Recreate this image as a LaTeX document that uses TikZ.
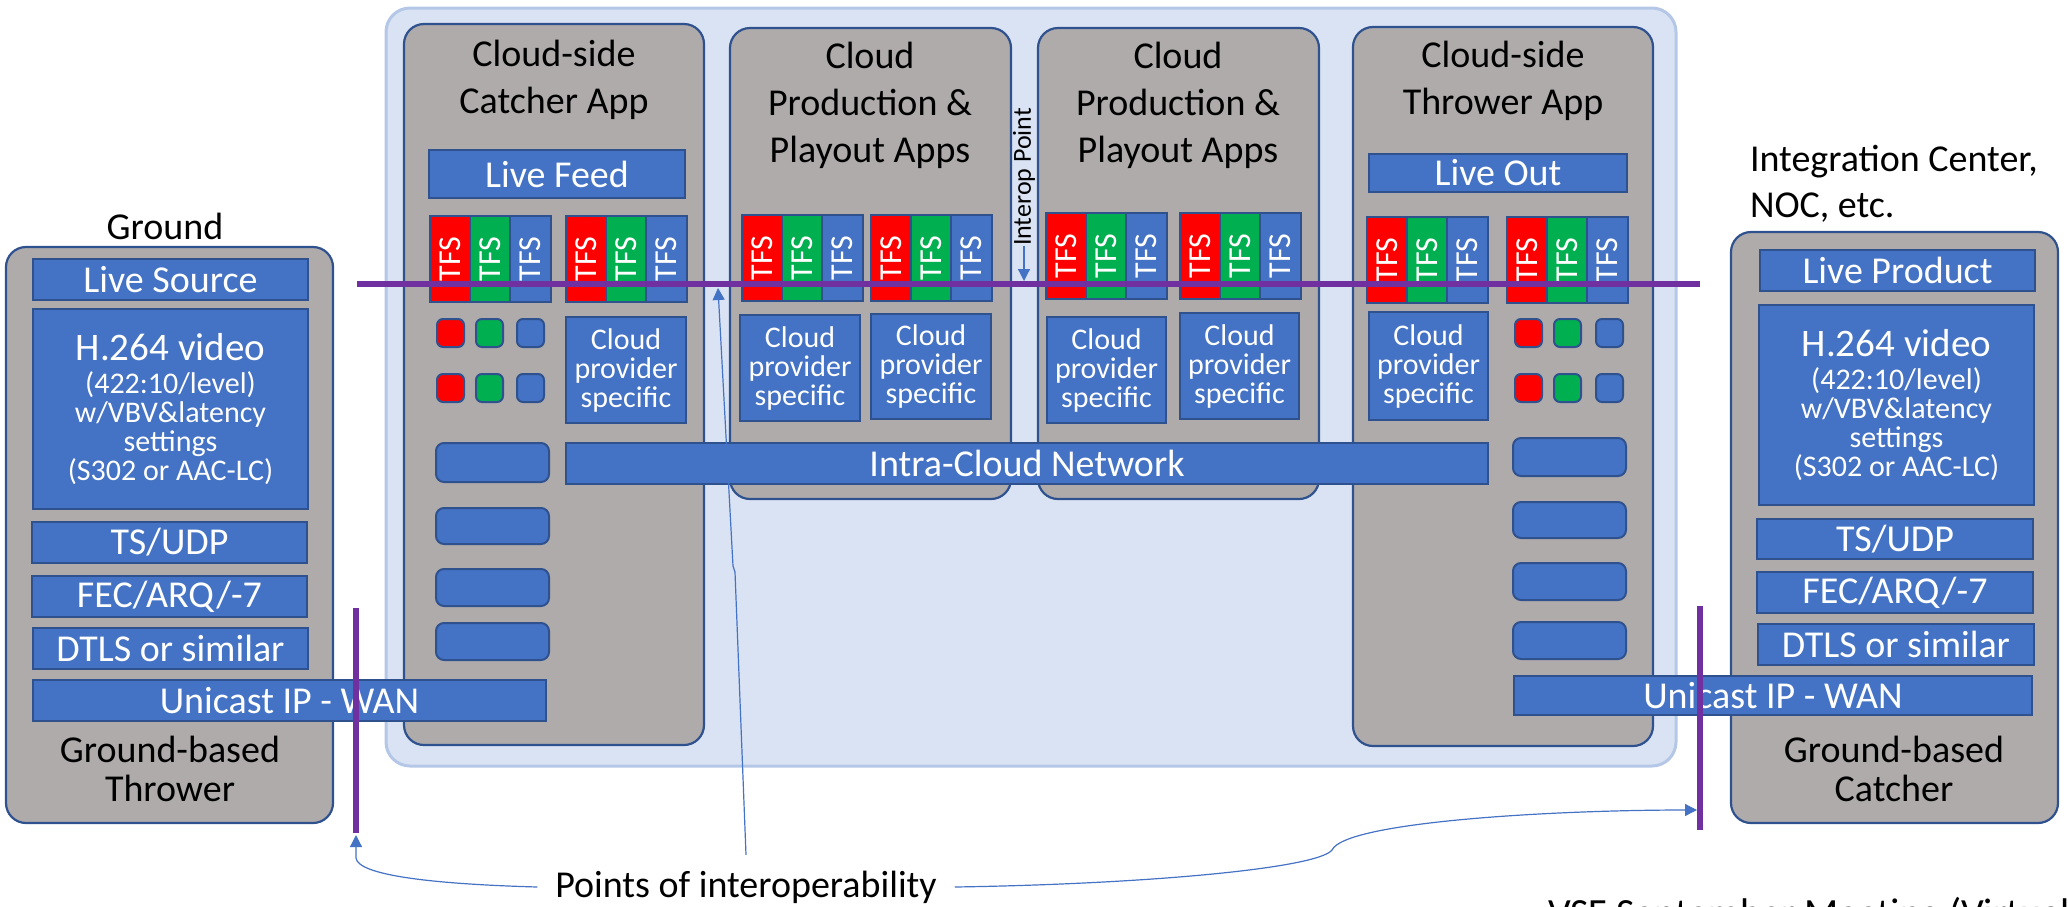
\documentclass[tikz,border=0pt]{standalone}
\usepackage{fontspec}
\usepackage{graphicx}
\setmainfont{Carlito}
\usetikzlibrary{arrows.meta}
\definecolor{bgblue}{HTML}{DAE3F3}
\definecolor{bgedge}{HTML}{B4C7E7}
\definecolor{appgray}{HTML}{AFABAB}
\definecolor{edgeblue}{HTML}{2F528F}
\definecolor{mblue}{HTML}{4472C4}
\definecolor{tred}{HTML}{FF0000}
\definecolor{tgreen}{HTML}{00B050}
\definecolor{ppurple}{HTML}{7030A0}
\newcommand\fs[2]{\fontsize{#1}{#2}\selectfont}
% name, x1, y1, x2, y2, style, text
\newcommand\rbox[7]{\node[#6,minimum width={(#4-(#2))*0.5pt},minimum height={(#5-(#3))*0.5pt}] (#1) at ({(#2+#4)/2},{(#3+#5)/2}) {#7};}
\newcommand\tfstxt{\rotatebox{90}{TFS}}
% name, x, y
\newcommand\tfsgroup[3]{%
  \rbox{#1a}{#2}{#3}{#2+40}{#3+86}{tfsbar,fill=tred}{\tfstxt}
  \rbox{#1b}{#2+40}{#3}{#2+80}{#3+86}{tfsbar,fill=tgreen}{\tfstxt}
  \rbox{#1c}{#2+80}{#3}{#2+121}{#3+86}{tfsbar,fill=mblue}{\tfstxt}}
% name, x-list, y
\newcommand\sqrow[5]{%
  \rbox{#1a}{#2}{#5}{#2+27}{#5+28}{sq,fill=tred}{}
  \rbox{#1b}{#3}{#5}{#3+27}{#5+28}{sq,fill=tgreen}{}
  \rbox{#1c}{#4}{#5}{#4+27}{#5+28}{sq,fill=mblue}{}}
\begin{document}
\begin{tikzpicture}[x=0.5pt,y=-0.5pt,
  every node/.style={inner sep=0pt,outer sep=0pt},
  cloudbg/.style={fill=bgblue,draw=bgedge,line width=1.5pt,rounded corners=12pt},
  app/.style={fill=appgray,draw=edgeblue,line width=1.1pt,rounded corners=10pt},
  blk/.style={fill=mblue,draw=edgeblue,line width=1pt,text=white,font=\fs{19}{23}},
  cps/.style={blk,align=center,font=\fs{15}{14.5}},
  rblk/.style={fill=mblue,draw=edgeblue,line width=1pt,rounded corners=4pt},
  tfsbar/.style={draw=edgeblue,line width=1pt,text=white,font=\fs{16}{16}},
  sq/.style={draw=edgeblue,line width=1pt,rounded corners=3pt},
  ttl/.style={align=center,font=\fs{19}{23.5}},
  lbl/.style={font=\fs{19}{23}},
  purp/.style={draw=ppurple,line width=3pt},
  thin/.style={draw=mblue,line width=0.6pt},
  arr/.style={thin,-{Triangle[width=6pt,length=6pt]}}]
\useasboundingbox (0,0) rectangle (2068,906);
\clip (0,0) rectangle (2068,906);

% cloud background
\rbox{cloud}{386}{8}{1676}{766}{cloudbg}{}

% Cloud-side catcher app
\rbox{catcher}{404}{24}{704}{745}{app}{}
\node[ttl] (catcherT) at (554,80) {Cloud-side\\Catcher App};
\rbox{livefeed}{429}{150}{685}{198}{blk}{Live Feed}
\tfsgroup{ca}{430}{216}
\tfsgroup{cb}{566}{216}
\sqrow{cs1}{437}{476}{517}{319}
\sqrow{cs2}{437}{476}{517}{374}
\rbox{ccps}{566}{317}{686}{423}{cps}{Cloud\\provider\\specific}
\rbox{cr1}{436}{443}{549}{482}{rblk}{}
\rbox{cr2}{436}{508}{549}{544}{rblk}{}
\rbox{cr3}{436}{569}{549}{606}{rblk}{}
\rbox{cr4}{436}{623}{549}{660}{rblk}{}

% Production app 1
\rbox{prod1}{730}{28}{1011}{499}{app}{}
\node[ttl] (prod1T) at (870,105) {Cloud\\Production \&\\Playout Apps};
\tfsgroup{pa}{742}{215}
\tfsgroup{pb}{871}{215}
\rbox{pcps1}{740}{315}{860}{421}{cps}{Cloud\\provider\\specific}
\rbox{pcps2}{871}{314}{991}{419}{cps}{Cloud\\provider\\specific}

% Production app 2
\rbox{prod2}{1038}{28}{1319}{499}{app}{}
\node[ttl] (prod2T) at (1178,105) {Cloud\\Production \&\\Playout Apps};
\tfsgroup{qa}{1046}{213}
\tfsgroup{qb}{1180}{213}
\rbox{qcps1}{1047}{317}{1166}{423}{cps}{Cloud\\provider\\specific}
\rbox{qcps2}{1180}{313}{1299}{419}{cps}{Cloud\\provider\\specific}

% Cloud-side thrower app
\rbox{thrower}{1353}{27}{1653}{746}{app}{}
\node[ttl] (throwerT) at (1503,81) {Cloud-side\\Thrower App};
\rbox{liveout}{1369}{154}{1627}{192}{blk}{Live Out}
\tfsgroup{ta}{1367}{217}
\tfsgroup{tb}{1507}{217}
\rbox{tcps}{1369}{312}{1488}{420}{cps}{Cloud\\provider\\specific}
\sqrow{ts1}{1515}{1554}{1596}{319}
\sqrow{ts2}{1515}{1554}{1596}{374}
\rbox{tr1}{1513}{438}{1626}{476}{rblk}{}
\rbox{tr2}{1513}{502}{1626}{538}{rblk}{}
\rbox{tr3}{1513}{563}{1626}{600}{rblk}{}
\rbox{tr4}{1513}{622}{1626}{659}{rblk}{}

% Intra-cloud network
\rbox{intra}{566}{443}{1488}{484}{blk}{Intra-Cloud Network}

% Interop point label
\node[rotate=90,font=\fs{13}{13}] (interop) at (1024,177) {Interop Point};
\coordinate (ipt) at (1024,281);

% Ground-based thrower
\node[lbl] (groundL) at (165,226) {Ground};
\rbox{gthrow}{6}{247}{333}{823}{app}{}
\rbox{lsrc}{33}{259}{308}{300}{blk}{Live Source}
\rbox{h264a}{33}{309}{308}{509}{blk}{}
\node[anchor=north,align=center,text=white,font=\fs{15}{14.6}] (h264aT) at (170.5,333)
  {{\fs{19.5}{20}H.264 video}\\[2pt](422:10/level)\\w/VBV\&latency\\settings\\(S302 or AAC-LC)};
\rbox{tsudpa}{32}{522}{307}{563}{blk}{TS/UDP}
\rbox{feca}{32}{576}{307}{617}{blk}{FEC/ARQ/-7}
\rbox{dtlsa}{33}{628}{308}{669}{blk}{DTLS or similar}
\rbox{wana}{33}{680}{546}{721}{blk}{Unicast IP - WAN}
\node[ttl,font=\fs{19}{19.5}] (gthrowT) at (170,769) {Ground-based\\Thrower};

% Ground-based catcher
\node[lbl,anchor=west,align=left] (integ) at (1750,184) {Integration Center,\\NOC, etc.};
\rbox{gcatch}{1731}{232}{2058}{823}{app}{}
\rbox{lprod}{1760}{250}{2035}{291}{blk}{Live Product}
\rbox{h264b}{1759}{305}{2034}{505}{blk}{}
\node[anchor=north,align=center,text=white,font=\fs{15}{14.6}] (h264bT) at (1896.5,329)
  {{\fs{19.5}{20}H.264 video}\\[2pt](422:10/level)\\w/VBV\&latency\\settings\\(S302 or AAC-LC)};
\rbox{tsudpb}{1757}{519}{2033}{559}{blk}{TS/UDP}
\rbox{fecb}{1757}{572}{2033}{613}{blk}{FEC/ARQ/-7}
\rbox{dtlsb}{1758}{624}{2034}{665}{blk}{DTLS or similar}
\rbox{wanb}{1514}{676}{2032}{715}{blk}{Unicast IP - WAN}
\node[ttl,font=\fs{19}{19.5}] (gcatchT) at (1894,769) {Ground-based\\Catcher};

% purple interop lines
\coordinate (hl1) at (357,284);
\coordinate (hl2) at (1700,284);
\coordinate (lv1) at (356,608);
\coordinate (lv2) at (356,833);
\coordinate (rv1) at (1700,606);
\coordinate (rv2) at (1700,830);
\draw[purp] (hl1) -- (hl2);
\draw[purp] (lv1) -- (lv2);
\draw[purp] (rv1) -- (rv2);

% interop point arrow
\draw[arr] (interop.west) -- (ipt);

% points of interoperability
\node[lbl,inner xsep=9pt,inner ysep=8pt] (poi) at (746,887) {Points of interoperability};
\coordinate (lvtip) at (356,835);
\coordinate (rvtip) at (1697,810);
\coordinate (hltip) at (718,288);
\draw[arr] (poi.west) .. controls (430,884) and (358,875) .. (356,858) -- (lvtip);
\draw[arr] (poi.east) .. controls (1150,884) and (1318,868) .. (1332,850)
  .. controls (1345,822) and (1550,810) .. (rvtip);
\draw[arr] (poi.north) -- (735,572) -- (733,566) -- (hltip);

% footer (cut off at the picture's lower edge, as in the reference)
\node[font=\fs{20}{24},anchor=base west] (footer) at (1548,926) {VSF September Meeting (Virtual)};
\end{tikzpicture}
\end{document}
